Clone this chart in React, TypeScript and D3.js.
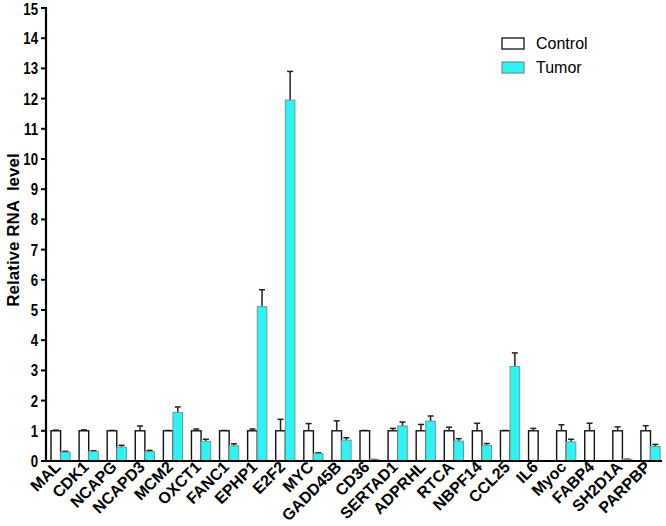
import React from "react";
import * as d3 from "d3";

const categories = ["MAL","CDK1","NCAPG","NCAPD3","MCM2","OXCT1","FANC1","EPHP1","E2F2","MYC","GADD45B","CD36","SERTAD1","ADPRHL","RTCA","NBPF14","CCL25","IL6","Myoc","FABP4","SH2D1A","PARPBP"];
const controlValues = [1,1,1,1,1,1,1,1,1,1,1,1,1,1,1,1,1,1,1,1,1,1];
const controlErrors = [0.02,0.03,0.01,0.16,0.01,0.06,0.01,0.06,0.38,0.24,0.33,0.01,0.08,0.21,0.12,0.25,0.01,0.08,0.2,0.25,0.13,0.17];
const tumorValues = [0.29,0.31,0.46,0.31,1.61,0.65,0.5,5.11,11.95,0.24,0.69,0.04,1.16,1.32,0.66,0.52,3.13,0.01,0.63,0.01,0.05,0.48];
const tumorErrors = [0.03,0.03,0.06,0.04,0.18,0.07,0.07,0.56,0.95,0.03,0.08,0.01,0.13,0.17,0.08,0.06,0.45,0,0.09,0,0.01,0.07];
const yTicks = d3.range(0, 16);
const seriesNames = ["Control", "Tumor"];

const W = 666, H = 526;
const FONT = "'Liberation Sans', Arial, sans-serif";
const TUMOR = "#2ff2f2";

export default function App() {
  const x = d3.scaleBand<string>().domain(categories).range([46, 664]).padding(0);
  const y = d3.scaleLinear().domain([0, 15]).range([461, 8]);
  const barW = 9.6;
  const off = 5;
  const errBar = (cx: number, v: number, e: number, key: string) => {
    if (e <= 0) return null;
    return (
      <g key={key} stroke="#222" strokeWidth={1.5}>
        <line x1={cx} x2={cx} y1={y(v)} y2={y(v + e)} />
        <line x1={cx - 3} x2={cx + 3} y1={y(v + e)} y2={y(v + e)} />
      </g>
    );
  };
  return (
    <svg width={W} height={H} style={{ position: "absolute", left: 0, top: 0, background: "#fff" }} fontFamily={FONT}>
      {categories.map((c, i) => {
        const x0 = (x(c) as number) + off;
        const x1 = x0 + barW;
        return (
          <g key={c}>
            {errBar(x0 + barW / 2, controlValues[i], controlErrors[i], "ce")}
            {errBar(x1 + barW / 2, tumorValues[i], tumorErrors[i], "te")}
            <rect x={x0} y={y(controlValues[i])} width={barW} height={y(0) - y(controlValues[i])} fill="#fff" stroke="#111" strokeWidth={1.4} />
            <rect x={x1} y={y(tumorValues[i])} width={barW} height={Math.max(0, y(0) - y(tumorValues[i]))} fill={TUMOR} stroke="#6a9a9a" strokeWidth={1} />
          </g>
        );
      })}
      {/* axes */}
      <line x1={46} x2={46} y1={y(15) - 1} y2={y(0) + 1} stroke="#000" strokeWidth={2.2} />
      <line x1={45} x2={662} y1={y(0)} y2={y(0)} stroke="#000" strokeWidth={2.2} />
      {yTicks.map((t) => (
        <g key={t}>
          <line x1={41} x2={46} y1={y(t)} y2={y(t)} stroke="#000" strokeWidth={2} />
          <text transform={`translate(38,${Math.max(y(t), 9.5)}) scale(0.8,1)`} dy="0.36em" textAnchor="end" fontSize={16.5} fontWeight="bold">{t}</text>
        </g>
      ))}
      {categories.map((c) => {
        const cx = (x(c) as number) + off + barW;
        return (
          <text key={c} transform={`translate(${cx + 1},${468}) rotate(-45)`} textAnchor="end" fontSize={16} fontWeight="bold">{c}</text>
        );
      })}
      <text transform={`translate(19,230) rotate(-90)`} textAnchor="middle" fontSize={17} fontWeight="bold" style={{ whiteSpace: "pre" }}>{"Relative RNA  level"}</text>
      {/* legend */}
      {seriesNames.map((s, i) => (
        <g key={s} transform={`translate(502,${38 + i * 24})`}>
          <rect x={0} y={0} width={22} height={11} fill={i === 0 ? "#fff" : TUMOR} stroke={i === 0 ? "#111" : "#6a9a9a"} strokeWidth={1.3} />
          <text x={34} y={10.5} fontSize={16}>{s}</text>
        </g>
      ))}
    </svg>
  );
}
